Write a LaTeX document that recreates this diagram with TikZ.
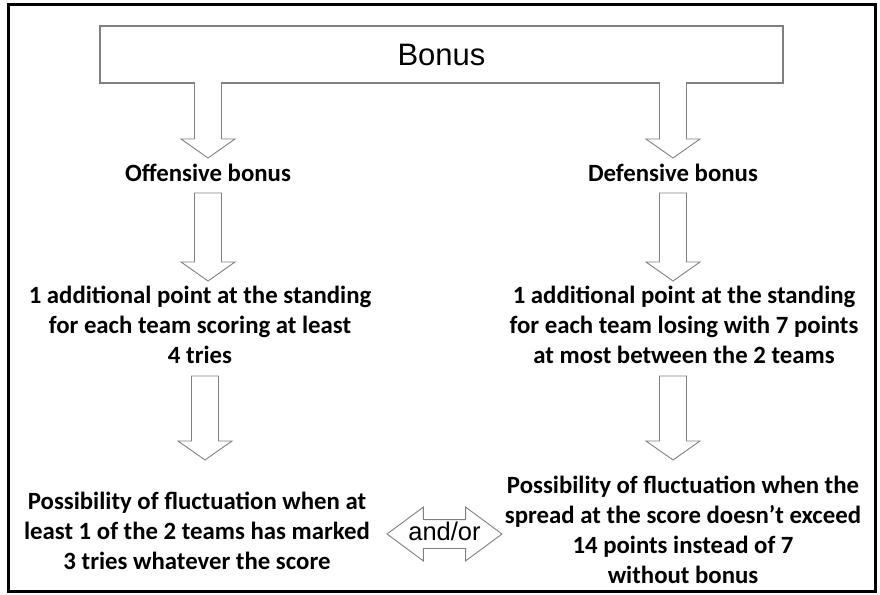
\documentclass[tikz,border=0pt]{standalone}
\usepackage{fontspec}
\setmainfont{Carlito}
\newfontfamily\arialfont{Liberation Sans}
\usetikzlibrary{positioning,calc,shapes.arrows}

% block arrow from a start point down to a tip (x taken from the tip)
\newcommand\flowarrow[2]{%
  \draw[blockarrow] let \p1=#1, \p2=#2 in
    (\x2-13.5pt,\y1) -- (\x2-13.5pt,\y2+19pt) -- (\x2-27pt,\y2+19pt) -- (\x2,\y2)
    -- (\x2+27pt,\y2+19pt) -- (\x2+13.5pt,\y2+19pt) -- (\x2+13.5pt,\y1) -- cycle;}
% same, but open at the top so that it runs out of the title box
\newcommand\openarrow[2]{%
  \draw[blockarrow] let \p1=#1, \p2=#2 in
    (\x2-13.5pt,\y1+1.5pt) -- (\x2-13.5pt,\y2+19pt) -- (\x2-27pt,\y2+19pt) -- (\x2,\y2)
    -- (\x2+27pt,\y2+19pt) -- (\x2+13.5pt,\y2+19pt) -- (\x2+13.5pt,\y1+1.5pt);}

\begin{document}
\begin{tikzpicture}[
  x=1pt, y=-1pt,
  font=\fontsize{24.8}{30}\selectfont\bfseries,
  txt/.style={align=center, inner sep=3pt},
  title/.style={draw=gray, line width=1.2pt, minimum width=683pt,
                minimum height=57pt, font=\arialfont\fontsize{31}{36}\selectfont},
  blockarrow/.style={draw=gray, fill=white, line width=0.9pt, line join=miter},
  andor/.style={double arrow, draw=gray, fill=white, line width=0.9pt,
                double arrow tip angle=73, double arrow head extend=12.5pt,
                minimum height=115pt, inner xsep=0pt, inner ysep=4pt,
                text height=16pt, text depth=4pt,
                font=\arialfont\fontsize{25.5}{28}\selectfont},
]
\useasboundingbox (0,0) rectangle (880,594);
\draw[line width=3pt] (8.5,4.5) rectangle (875.5,591.5);

% ---------- Title ----------
\node[title] (bonus) at (441.5,54.5) {Bonus};

% ---------- Offensive side ----------
\node[txt] (off)    at (208,173) {Offensive bonus};
\node[txt] (midoff) at (200,325) {1 additional point at the standing\\for each team scoring at least\\4 tries};
\node[txt] (lowoff) at (197,531) {Possibility of fluctuation when at\\least 1 of the 2 teams has marked\\3 tries whatever the score};

% ---------- Defensive side ----------
\node[txt] (def)    at (673,173) {Defensive bonus};
\node[txt] (middef) at (684,325) {1 additional point at the standing\\for each team losing with 7 points\\at most between the 2 teams};
\node[txt] (lowdef) at (683,530) {Possibility of fluctuation when the\\spread at the score doesn't exceed\\14 points instead of 7\\without bonus};

% ---------- Arrows ----------
\openarrow{(bonus.south)}{($(off.north)+(0,-3)$)}
\openarrow{(bonus.south)}{($(def.north)+(0,-3)$)}

\flowarrow{($(off.south)+(0,8)$)}{($(off |- midoff.north)+(0,-2)$)}
\flowarrow{($(def.south)+(0,8)$)}{($(def |- middef.north)+(0,-2)$)}

\flowarrow{($(off |- midoff.south)+(0,9)$)}{($(lowoff.north)+(8,-29)$)}
\flowarrow{($(def |- middef.south)+(0,9)$)}{($(def |- lowdef.north)+(0,-13)$)}

\node[andor] (link) at (444.5,534) {\makebox[0pt]{and/or}};

\end{tikzpicture}
\end{document}
